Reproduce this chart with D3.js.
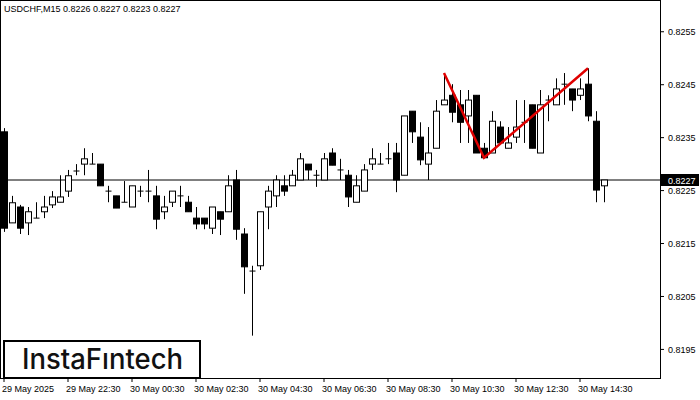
<!DOCTYPE html>
<html><head><meta charset="utf-8">
<script src="https://cdn.jsdelivr.net/npm/d3@7/dist/d3.min.js"></script>
<style>body{margin:0;background:#fff}</style></head>
<body><svg id="c" width="700" height="400"></svg>
<script>
const opens=[0.82361,0.82189,0.82219,0.82189,0.82198,0.82210,0.82223,0.82228,0.82249,0.82287,0.82300,0.82300,0.82300,0.82249,0.82240,0.82228,0.82219,0.82249,0.82249,0.82240,0.82210,0.82228,0.82240,0.82228,0.82198,0.82198,0.82179,0.82210,0.82210,0.82270,0.82168,0.82098,0.82108,0.82219,0.82240,0.82259,0.82259,0.82270,0.82300,0.82279,0.82270,0.82321,0.82289,0.82279,0.82228,0.82249,0.82300,0.82300,0.82310,0.82321,0.82279,0.82400,0.82351,0.82300,0.82330,0.82412,0.82430,0.82412,0.82391,0.82430,0.82330,0.82321,0.82370,0.82330,0.82351,0.82379,0.82412,0.82321,0.82421,0.82412,0.82451,0.82442,0.82430,0.82451,0.82381,0.82259];
const highs=[0.82368,0.82240,0.82223,0.82219,0.82228,0.82240,0.82249,0.82279,0.82289,0.82300,0.82330,0.82321,0.82300,0.82259,0.82240,0.82268,0.82259,0.82259,0.82289,0.82259,0.82240,0.82249,0.82259,0.82240,0.82219,0.82198,0.82219,0.82210,0.82279,0.82289,0.82179,0.82108,0.82210,0.82259,0.82279,0.82279,0.82289,0.82321,0.82300,0.82289,0.82321,0.82330,0.82310,0.82289,0.82279,0.82300,0.82330,0.82321,0.82340,0.82340,0.82391,0.82400,0.82379,0.82370,0.82421,0.82472,0.82451,0.82440,0.82440,0.82430,0.82340,0.82400,0.82381,0.82370,0.82421,0.82421,0.82412,0.82440,0.82430,0.82462,0.82472,0.82442,0.82462,0.82481,0.82400,0.82270];
const lows=[0.82172,0.82189,0.82168,0.82166,0.82198,0.82198,0.82217,0.82228,0.82238,0.82279,0.82279,0.82300,0.82259,0.82228,0.82217,0.82228,0.82219,0.82238,0.82228,0.82177,0.82196,0.82219,0.82219,0.82210,0.82177,0.82177,0.82168,0.82166,0.82210,0.82157,0.82055,0.81976,0.82100,0.82177,0.82219,0.82240,0.82259,0.82270,0.82270,0.82257,0.82270,0.82298,0.82270,0.82219,0.82228,0.82249,0.82289,0.82300,0.82300,0.82247,0.82279,0.82340,0.82298,0.82270,0.82330,0.82412,0.82379,0.82340,0.82340,0.82321,0.82312,0.82321,0.82340,0.82330,0.82340,0.82340,0.82330,0.82321,0.82381,0.82412,0.82412,0.82400,0.82421,0.82381,0.82228,0.82228];
const closes=[0.82179,0.82227,0.82179,0.82210,0.82198,0.82219,0.82238,0.82238,0.82278,0.82287,0.82310,0.82300,0.82259,0.82249,0.82217,0.82228,0.82259,0.82249,0.82249,0.82196,0.82219,0.82249,0.82240,0.82210,0.82187,0.82187,0.82219,0.82196,0.82259,0.82177,0.82106,0.82098,0.82210,0.82249,0.82270,0.82249,0.82279,0.82310,0.82289,0.82279,0.82310,0.82298,0.82289,0.82238,0.82259,0.82289,0.82310,0.82300,0.82310,0.82270,0.82391,0.82361,0.82308,0.82321,0.82400,0.82421,0.82398,0.82379,0.82421,0.82321,0.82312,0.82381,0.82340,0.82340,0.82370,0.82379,0.82330,0.82412,0.82421,0.82442,0.82451,0.82421,0.82442,0.82391,0.82251,0.82270];
const priceTicks=[0.8195,0.8205,0.8215,0.8225,0.8235,0.8245,0.8255];
const timeLabels=["29 May 2025","29 May 22:30","30 May 00:30","30 May 02:30","30 May 04:30","30 May 06:30","30 May 08:30","30 May 10:30","30 May 12:30","30 May 14:30"];
const patternIdx=[55,60,73];
const patternPrice=[0.82472,0.82312,0.82481];
const lastPrice=0.8227;

const svg=d3.select("#c");
const W=660,H=378;
const y=d3.scaleLinear().domain([0.81896,0.82610]).range([H,0]);
const x=d3.scaleLinear().domain([0,1]).range([4,12]);
const f="Arial, 'Liberation Sans', sans-serif";
svg.append("rect").attr("x",0.5).attr("y",0.5).attr("width",W).attr("height",H).attr("fill","none").attr("stroke","#000");
svg.append("line").attr("x1",0).attr("x2",W).attr("y1",y(lastPrice)).attr("y2",y(lastPrice)).attr("stroke","#000");
const g=svg.append("g");
opens.forEach((o,i)=>{
  const cx=Math.round(x(i))+0.5,c=closes[i];
  g.append("line").attr("x1",cx).attr("x2",cx).attr("y1",y(highs[i])).attr("y2",y(lows[i])).attr("stroke","#000");
  const t=Math.min(y(o),y(c)),h=Math.abs(y(o)-y(c));
  if(h<1.5){g.append("line").attr("x1",cx-3).attr("x2",cx+3).attr("y1",y(c)).attr("y2",y(c)).attr("stroke","#000");}
  else g.append("rect").attr("x",cx-3).attr("y",t).attr("width",6).attr("height",h)
   .attr("fill",c>=o?"#fff":"#000").attr("stroke","#000");
});
svg.append("path").attr("d",d3.line().x(d=>x(d[0])).y(d=>y(d[1]))(patternIdx.map((d,i)=>[d,patternPrice[i]])))
 .attr("fill","none").attr("stroke","#e00000").attr("stroke-width",2.5);
const ax=svg.append("g");
priceTicks.forEach(p=>{
  ax.append("line").attr("x1",W).attr("x2",W+4).attr("y1",y(p)).attr("y2",y(p)).attr("stroke","#000");
  ax.append("text").attr("x",668).attr("y",y(p)+3.5).text(p.toFixed(4)).attr("font-size",9).attr("font-family",f);
});
svg.append("rect").attr("x",661).attr("y",y(lastPrice)-6).attr("width",38).attr("height",12).attr("fill","#000");
svg.append("text").attr("x",668).attr("y",y(lastPrice)+3.5).text(lastPrice.toFixed(4)).attr("fill","#fff").attr("font-size",9).attr("font-family",f);
timeLabels.forEach((t,i)=>{
  const xi=x(i*8);
  svg.append("line").attr("x1",xi).attr("x2",xi).attr("y1",H).attr("y2",H+4).attr("stroke","#000");
  svg.append("text").attr("x",xi-2).attr("y",392).text(t).attr("font-size",9).attr("font-family",f);
});
svg.append("text").attr("x",4).attr("y",12).text("USDCHF,M15  0.8226 0.8227 0.8223 0.8227").attr("font-size",9).attr("font-family",f);
svg.append("rect").attr("x",4).attr("y",341).attr("width",196).attr("height",37).attr("fill","#fff").attr("stroke","#000").attr("stroke-width",2);
svg.append("text").attr("x",22).attr("y",369).text("InstaFıntech").attr("font-size",28).attr("font-weight",500)
 .attr("textLength",161).attr("lengthAdjust","spacingAndGlyphs").attr("font-family","Inter, 'Noto Sans', sans-serif").attr("fill","#111");
</script></body></html>
